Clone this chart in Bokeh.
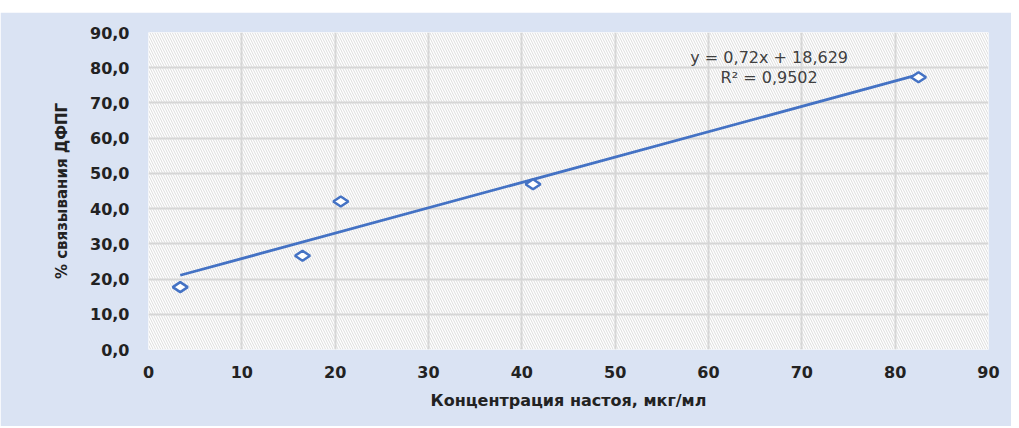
import math
from bokeh.plotting import figure
from bokeh.models import (ColumnDataSource, BoxAnnotation, Label, FixedTicker,
                          CustomJSTickFormatter, Spacer, Range1d)
from bokeh.layouts import column
from bokeh.embed import file_html
from bokeh.resources import INLINE

# ---- data ----
conc = [3.4, 16.5, 20.6, 41.2, 82.5]          # Концентрация настоя, мкг/мл
binding = [17.7, 26.6, 42.0, 46.9, 77.3]      # % связывания ДФПГ
slope = 0.72
intercept = 18.629
r2 = 0.9502
x_ticks = [0, 10, 20, 30, 40, 50, 60, 70, 80, 90]
y_ticks = [0, 10, 20, 30, 40, 50, 60, 70, 80, 90]
x_title = "Концентрация настоя, мкг/мл"
y_title = "% связывания ДФПГ"
eq_text = "y = 0,72x + 18,629"
r2_text = "R² = 0,9502"

BLUE = "#4472C4"
PANEL = "#DAE3F3"
FONT = "DejaVu Sans"

p = figure(width=1011, height=414, output_backend="svg", toolbar_location=None,
           x_range=Range1d(0, 90), y_range=Range1d(0, 90),
           min_border_left=148, min_border_right=23, min_border_top=20,
           min_border_bottom=77)
p.border_fill_color = PANEL
p.background_fill_color = "white"
p.outline_line_color = None

# hatched plot area
hatch = BoxAnnotation(fill_alpha=0, line_alpha=0, hatch_pattern="\\",
                      hatch_color="#dcdcdc", hatch_scale=5, hatch_weight=1,
                      level="image")
p.add_layout(hatch)

# grid
for g in (p.xgrid, p.ygrid):
    g.grid_line_color = "#d6d6d6"
    g.grid_line_width = 2
p.xgrid.ticker = FixedTicker(ticks=x_ticks)
p.ygrid.ticker = FixedTicker(ticks=y_ticks)

# axes
for ax in (p.xaxis, p.yaxis):
    ax.axis_line_color = None
    ax.major_tick_line_color = None
    ax.minor_tick_line_color = None
    ax.major_tick_out = 0
    ax.major_label_text_font = FONT
    ax.major_label_text_font_style = "bold"
    ax.major_label_text_font_size = "16px"
    ax.major_label_text_color = "#222222"
    ax.axis_label_text_font = FONT
    ax.axis_label_text_font_style = "bold"
    ax.axis_label_text_color = "#222222"

p.xaxis.axis_label_text_font_size = "16px"
p.yaxis.axis_label_text_font_size = "15px"
p.xaxis.ticker = FixedTicker(ticks=x_ticks)
p.yaxis.ticker = FixedTicker(ticks=y_ticks)
p.yaxis.formatter = CustomJSTickFormatter(code="return tick.toFixed(1).replace('.', ',');")
p.xaxis.axis_label = x_title
p.yaxis.axis_label = y_title
p.xaxis.major_label_standoff = 16
p.yaxis.major_label_standoff = 19
p.xaxis.axis_label_standoff = 10
p.yaxis.axis_label_standoff = 16

# trend line
x0, x1 = min(conc), max(conc)
trend = ColumnDataSource(dict(x=[x0, x1], y=[slope * x0 + intercept, slope * x1 + intercept]))
p.line("x", "y", source=trend, line_color=BLUE, line_width=2.8)

# points (wide diamonds, as in the original)
src = ColumnDataSource(dict(x=conc, y=binding))
p.scatter("x", "y", source=src, marker="diamond", size=15, angle=math.pi / 2,
          fill_color="white", line_color=BLUE, line_width=2.5)

# equation labels
eq_x = 66.5
p.add_layout(Label(x=eq_x, y=82.9, text=eq_text, text_align="center",
                   text_baseline="middle", text_font=FONT, text_font_size="16px",
                   text_color="#404040"))
p.add_layout(Label(x=eq_x, y=77.2, text=r2_text, text_align="center",
                   text_baseline="middle", text_font=FONT, text_font_size="16px",
                   text_color="#404040"))

layout = column(Spacer(height=12, width=1011), p, spacing=0)
open("out.html", "w").write(file_html(layout, INLINE))
